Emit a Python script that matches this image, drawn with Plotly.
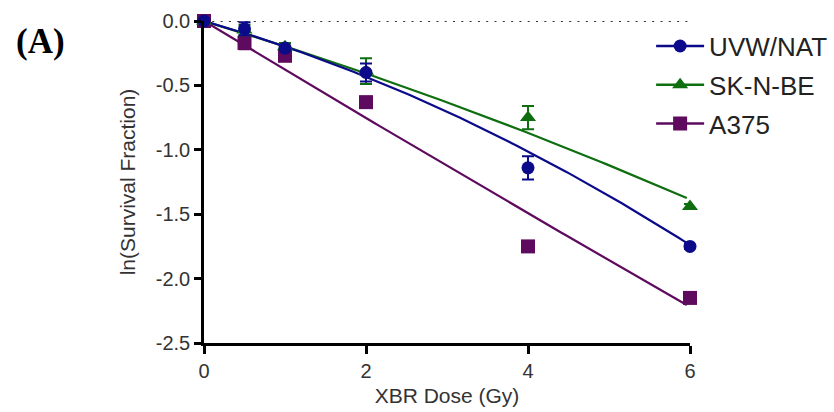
import numpy as np
import plotly.graph_objects as go

# Dose points (Gy)
dose = [0, 0.5, 1, 2, 4, 6]

# ln(survival fraction) means and SEM for each cell line
uvw_mean = [0.0, -0.06, -0.21, -0.40, -1.14, -1.75]
uvw_err = [0.0, 0.05, 0.02, 0.07, 0.09, 0.02]

sknbe_mean = [0.0, -0.07, -0.20, -0.39, -0.75, -1.44]
sknbe_err = [0.0, 0.04, 0.03, 0.10, 0.09, 0.02]

a375_mean = [0.0, -0.17, -0.27, -0.63, -1.75, -2.15]
a375_err = [0.0, 0.05, 0.03, 0.03, 0.03, 0.03]

# Axis ticks
x_ticks = [0, 2, 4, 6]
y_ticks = [-2.5, -2.0, -1.5, -1.0, -0.5, 0.0]
y_tick_labels = ["-2.5", "-2.0", "-1.5", "-1.0", "-0.5", "0.0"]

# Linear-quadratic fit parameters: ln S = -alpha*D - beta*D^2
names = ["UVW/NAT", "SK-N-BE", "A375"]
alpha = [0.180, 0.190, 0.380]
beta = [0.0183, 0.0068, -0.0017]
colors = ["#0a0a8a", "#0f6e0f", "#5e0a5e"]
symbols = ["circle", "triangle-up", "square"]
msizes = [13, 14, 14]

means = [uvw_mean, sknbe_mean, a375_mean]
errs = [uvw_err, sknbe_err, a375_err]

fig = go.Figure()

d_fit = np.linspace(0, 5.96, 120)

# draw purple first so blue ends up on top
for i in [2, 1, 0]:
    fit = -alpha[i] * d_fit - beta[i] * d_fit ** 2
    fig.add_trace(go.Scatter(
        x=d_fit, y=fit, mode="lines",
        line=dict(color=colors[i], width=2.2),
        showlegend=False, hoverinfo="skip", cliponaxis=False,
    ))
for i in [2, 1, 0]:
    fig.add_trace(go.Scatter(
        x=dose, y=means[i], mode="markers",
        marker=dict(symbol=symbols[i], size=msizes[i], color=colors[i]),
        error_y=dict(type="data", array=errs[i], color=colors[i],
                     thickness=2, width=6),
        showlegend=False, cliponaxis=False,
    ))

# legend entries
for i in range(3):
    fig.add_trace(go.Scatter(
        x=[None], y=[None], mode="lines+markers", name=names[i],
        line=dict(color=colors[i], width=2.5),
        marker=dict(symbol=symbols[i], size=msizes[i], color=colors[i]),
        legendgroup=names[i],
    ))

# dotted baseline at ln(SF) = 0
fig.add_shape(type="line", x0=0, x1=6, y0=0, y1=0, xref="x", yref="y",
              line=dict(color="#333333", width=2, dash="2px,6.3px"), layer="below")

tick_font = dict(family="Liberation Sans, Arial, sans-serif", size=20, color="#333333")
title_font = dict(family="Liberation Sans, Arial, sans-serif", size=21, color="#333333")

plot_l, plot_r, plot_t, plot_b = 204, 144, 21, 69
plot_w = 834 - plot_l - plot_r
plot_h = 412 - plot_t - plot_b

fig.update_layout(
    width=834, height=412,
    margin=dict(l=plot_l, r=plot_r, t=plot_t, b=plot_b, autoexpand=False),
    paper_bgcolor="white", plot_bgcolor="white",
    showlegend=True,
    legend=dict(
        x=0.92, y=0.995, xanchor="left", yanchor="top",
        font=dict(family="Liberation Sans, Arial, sans-serif", size=26, color="#222222"),
        traceorder="grouped", tracegroupgap=2,
        bgcolor="rgba(0,0,0,0)", itemwidth=48,
    ),
    xaxis=dict(
        range=[0, 6], tickvals=x_ticks, ticktext=[str(v) for v in x_ticks],
        showline=True, linecolor="black", linewidth=2.5,
        ticks="outside", ticklen=8, tickwidth=2.5, tickcolor="black",
        showgrid=False, zeroline=False, tickfont=tick_font,
        ticklabelstandoff=0, automargin=False,
        title=dict(text="XBR Dose (Gy)", font=title_font, standoff=8),
    ),
    yaxis=dict(
        range=[-2.5, 0], tickvals=y_ticks, ticktext=y_tick_labels,
        showline=True, linecolor="black", linewidth=2.5,
        ticks="outside", ticklen=7, tickwidth=2.5, tickcolor="black",
        showgrid=False, zeroline=False, tickfont=tick_font, automargin=False,
        title=dict(text="ln(Survival Fraction)", font=title_font, standoff=15),
    ),
    annotations=[dict(
        text="<b>(A)</b>",
        x=(40 - plot_l) / plot_w, y=1 - (42 - plot_t) / plot_h,
        xref="paper", yref="paper", xanchor="center", yanchor="middle",
        showarrow=False,
        font=dict(family="Liberation Serif, Times New Roman, serif", size=35, color="black"),
    )],
)

fig.write_html("out.html")
